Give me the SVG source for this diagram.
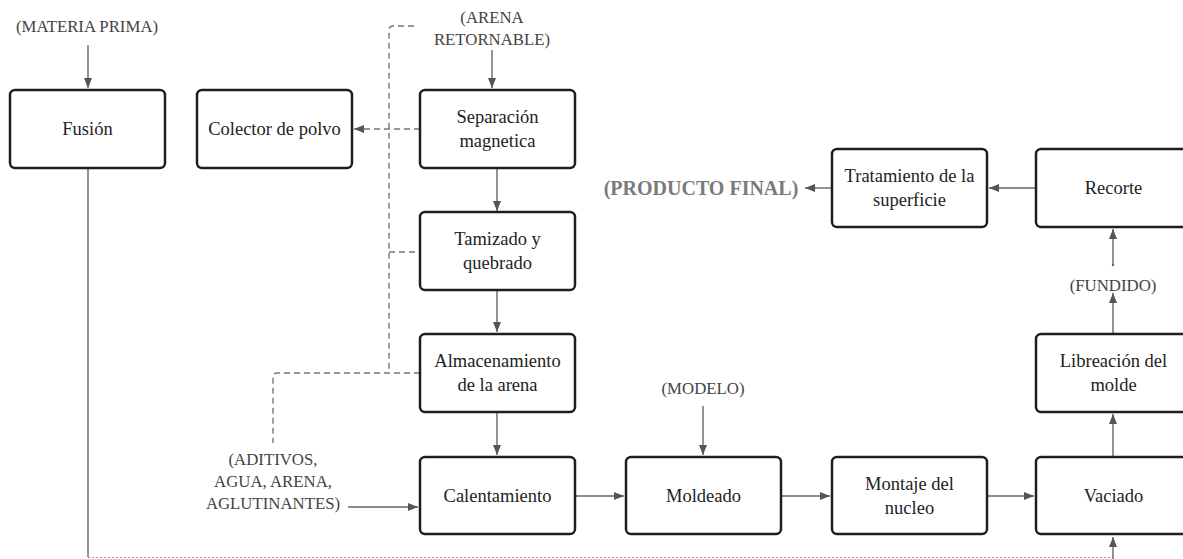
<svg xmlns="http://www.w3.org/2000/svg" width="1183" height="559" viewBox="0 0 1183 559">
<style>
.box{fill:#fff;stroke:#1e1e1e;stroke-width:2.5}
.t{font-family:"Liberation Serif","DejaVu Serif","Times New Roman",serif;font-size:18.5px;fill:#222;text-anchor:middle}
.lbl{font-family:"Liberation Serif","DejaVu Serif","Times New Roman",serif;font-size:16.8px;fill:#444;text-anchor:middle}
.pf{font-family:"Liberation Serif","DejaVu Serif","Times New Roman",serif;font-size:20px;font-weight:bold;fill:#7a7a7a;text-anchor:middle}
.c{fill:none;stroke:#666;stroke-width:1.4}
.d{fill:none;stroke:#777;stroke-width:1.4;stroke-dasharray:6 4}
</style>
<defs>
<marker id="ah" viewBox="0 0 10 8" refX="10" refY="4" markerWidth="10" markerHeight="8" markerUnits="userSpaceOnUse" orient="auto">
<path d="M0,0 L10,4 L0,8 z" fill="#555"/>
</marker>
</defs>
<rect width="1183" height="559" fill="#fff"/>
<g id="connectors">
<path class="c" d="M88,45 V88" marker-end="url(#ah)"/>
<path class="c" d="M492,50 V88" marker-end="url(#ah)"/>
<path class="c" d="M497,168 V211" marker-end="url(#ah)"/>
<path class="c" d="M497,290 V332" marker-end="url(#ah)"/>
<path class="c" d="M497,412 V455" marker-end="url(#ah)"/>
<path class="c" d="M348,507 H418" marker-end="url(#ah)"/>
<path class="c" d="M575,496 H624" marker-end="url(#ah)"/>
<path class="c" d="M703,406 V455" marker-end="url(#ah)"/>
<path class="c" d="M781,496 H830" marker-end="url(#ah)"/>
<path class="c" d="M987,496 H1034" marker-end="url(#ah)"/>
<path class="c" d="M1113,456 V414" marker-end="url(#ah)"/>
<path class="c" d="M1113,335 V293" marker-end="url(#ah)"/>
<path class="c" d="M1113,265 V229" marker-end="url(#ah)"/>
<circle cx="1113" cy="265" r="1.2" fill="#666"/>
<path class="c" d="M1036,188 H989" marker-end="url(#ah)"/>
<path class="c" d="M832,188 H805" marker-end="url(#ah)"/>
<path class="c" d="M88,168 V557"/>
<path d="M88,557.5 H1113" fill="none" stroke="#999" stroke-width="1.2" stroke-dasharray="2 2"/>
<path class="c" d="M1113,559 V537" marker-end="url(#ah)"/>
<path class="d" d="M420,129 H354" marker-end="url(#ah)"/>
<path class="d" d="M414,26 H393 Q389,26 389,30 V373"/>
<path class="d" d="M389,252 H420"/>
<path class="d" d="M420,373 H277 Q273,373 273,377 V443"/>
</g>
<g id="fusion"><rect class="box" x="10" y="90" width="155" height="78" rx="5"/><text class="t" x="87.5" y="135">Fusión</text></g>
<g id="colector"><rect class="box" x="197" y="90" width="155" height="78" rx="5"/><text class="t" x="274.5" y="135">Colector de polvo</text></g>
<g id="separacion"><rect class="box" x="420" y="90" width="155" height="78" rx="5"/><text class="t" x="497.5" y="123">Separación</text><text class="t" x="497.5" y="147">magnetica</text></g>
<g id="tamizado"><rect class="box" x="420" y="212" width="155" height="78" rx="5"/><text class="t" x="497.5" y="245">Tamizado y</text><text class="t" x="497.5" y="269">quebrado</text></g>
<g id="almacenamiento"><rect class="box" x="420" y="334" width="155" height="78" rx="5"/><text class="t" x="497.5" y="367">Almacenamiento</text><text class="t" x="497.5" y="391">de la arena</text></g>
<g id="calentamiento"><rect class="box" x="420" y="457" width="155" height="77" rx="5"/><text class="t" x="497.5" y="501.5">Calentamiento</text></g>
<g id="moldeado"><rect class="box" x="626" y="457" width="155" height="77" rx="5"/><text class="t" x="703.5" y="501.5">Moldeado</text></g>
<g id="montaje"><rect class="box" x="832" y="457" width="155" height="77" rx="5"/><text class="t" x="909.5" y="489.5">Montaje del</text><text class="t" x="909.5" y="513.5">nucleo</text></g>
<g id="vaciado"><rect class="box" x="1036" y="457" width="155" height="77" rx="5"/><text class="t" x="1113.5" y="501.5">Vaciado</text></g>
<g id="libreacion"><rect class="box" x="1036" y="334" width="155" height="78" rx="5"/><text class="t" x="1113.5" y="367">Libreación del</text><text class="t" x="1113.5" y="391">molde</text></g>
<g id="recorte"><rect class="box" x="1036" y="149" width="155" height="78" rx="5"/><text class="t" x="1113.5" y="194">Recorte</text></g>
<g id="tratamiento"><rect class="box" x="832" y="149" width="155" height="78" rx="5"/><text class="t" x="909.5" y="182">Tratamiento de la</text><text class="t" x="909.5" y="206">superficie</text></g>
<g id="labels">
<text class="lbl" x="87" y="32">(MATERIA PRIMA)</text>
<text class="lbl" x="492" y="23">(ARENA</text>
<text class="lbl" x="492" y="45">RETORNABLE)</text>
<text class="lbl" x="703" y="394">(MODELO)</text>
<text class="lbl" x="1113" y="291">(FUNDIDO)</text>
<text class="lbl" x="273" y="465">(ADITIVOS,</text>
<text class="lbl" x="273" y="487">AGUA, ARENA,</text>
<text class="lbl" x="273" y="509">AGLUTINANTES)</text>
<text class="pf" x="701" y="195">(PRODUCTO FINAL)</text>
</g>
</svg>
